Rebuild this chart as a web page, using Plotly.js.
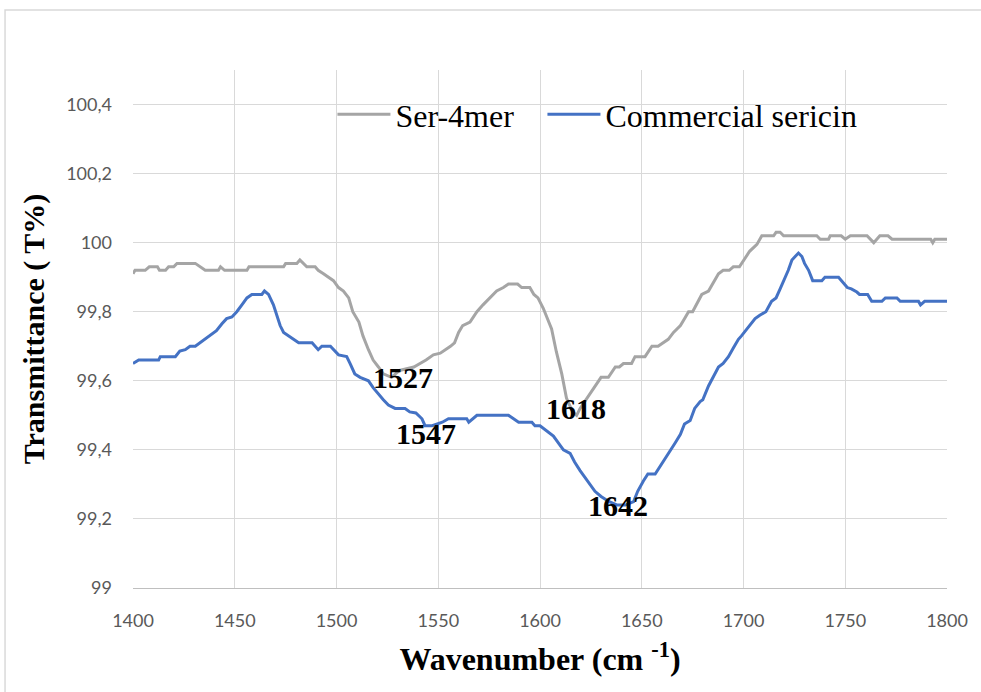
<!DOCTYPE html>
<html><head><meta charset="utf-8">
<script src="https://cdn.plot.ly/plotly-3.0.1.min.js"></script>
<style>html,body{margin:0;padding:0;background:#fff}#chart{width:981px;height:692px}</style>
</head><body><div id="chart"></div>
<script>
const serName = "Ser-4mer";
const comName = "Commercial sericin";
const serX = [1400,1401,1406,1408,1412,1413,1416,1417.5,1420,1421.6,
 1430.6,1433,1435.5,1442,1443,1445,1456,1457,1474,1475,
 1480.5,1482,1483.5,1485.4,1489.5,1491,1493.6,1496,1498.5,1501,
 1503.4,1506,1508,1511,1513,1515.7,1518,1520.6,1523,1527,
 1531,1538,1541,1544,1547.6,1551,1556,1558,1560,1562,
 1565.6,1569,1572,1575.5,1578.7,1582,1584.5,1589,1591,1595,
 1597,1599,1601.6,1605.7,1608,1610.7,1613,1616,1618,1619.7,
 1623,1626,1630,1633.6,1637,1639,1641,1645,1646.7,1651.6,
 1655,1658,1660.7,1663,1665.6,1669,1671,1673,1675,1679.5,
 1682.8,1687.7,1690,1693,1695,1698,1703,1706.6,1709,1714.8,
 1716,1718,1719.7,1736,1737.7,1741.8,1742.6,1748,1750,1752.5,
 1760.7,1764,1767,1771,1773,1792,1793,1794,1800];
const serY = [99.91,99.92,99.92,99.93,99.93,99.92,99.92,99.93,99.93,99.94,
 99.94,99.93,99.92,99.92,99.93,99.92,99.92,99.93,99.93,99.94,
 99.94,99.95,99.94,99.93,99.93,99.92,99.91,99.90,99.89,99.87,
 99.86,99.84,99.80,99.77,99.73,99.69,99.66,99.64,99.62,99.61,
 99.63,99.64,99.65,99.66,99.675,99.68,99.70,99.71,99.74,99.76,
 99.77,99.80,99.82,99.84,99.86,99.87,99.88,99.88,99.87,99.87,
 99.85,99.84,99.81,99.75,99.685,99.62,99.55,99.51,99.50,99.52,
 99.55,99.575,99.61,99.61,99.64,99.64,99.65,99.65,99.67,99.67,
 99.70,99.70,99.71,99.72,99.74,99.76,99.78,99.80,99.80,99.85,
 99.86,99.91,99.92,99.92,99.93,99.93,99.975,99.995,100.02,100.02,
 100.03,100.03,100.02,100.02,100.01,100.01,100.02,100.02,100.01,100.02,
 100.02,100.00,100.02,100.02,100.01,100.01,100.00,100.01,100.01];
const comX = [1400,1402.8,1412.6,1413.4,1420.8,1423,1425.7,1428,1430.6,1433,
 1435.5,1438,1441,1443.7,1446,1448.6,1451,1453.5,1456,1458.4,
 1463.3,1464.6,1466.6,1469,1470.7,1472.3,1474,1476.4,1479,1481.4,
 1488,1491,1492.8,1497,1501,1505,1506.7,1509,1511.6,1515.7,
 1518,1520.6,1523,1525.5,1528.8,1533.7,1536,1539,1542,1543.5,
 1547,1552,1555,1564,1565,1569,1584.5,1587,1589.5,1596,
 1597.5,1600,1603,1606.6,1609,1611.5,1614.8,1617,1619.7,1622,
 1624.6,1627,1630,1634,1638,1642,1646,1648,1650.8,1653,
 1656.6,1660,1663,1666.4,1669,1671,1673.8,1676,1678.7,1680,
 1682.8,1685,1687.7,1690,1692.6,1695,1697.5,1699,1701.6,1704,
 1705.7,1708,1711,1713.8,1716,1718,1720.5,1722,1723.8,1725.4,
 1727,1728.7,1730,1732,1734,1738.5,1740,1746.7,1748,1751,
 1753,1755.7,1757,1761,1763,1768,1769.7,1775.4,1777,1786,
 1787,1789,1800];
const comY = [99.65,99.66,99.66,99.67,99.67,99.686,99.69,99.70,99.70,99.71,
 99.72,99.73,99.745,99.765,99.78,99.785,99.80,99.82,99.84,99.85,
 99.85,99.86,99.85,99.82,99.79,99.76,99.74,99.73,99.72,99.71,
 99.71,99.69,99.70,99.70,99.675,99.67,99.65,99.62,99.61,99.60,
 99.58,99.56,99.545,99.53,99.52,99.52,99.51,99.507,99.49,99.47,
 99.47,99.48,99.49,99.49,99.48,99.50,99.50,99.49,99.48,99.48,
 99.47,99.47,99.456,99.44,99.42,99.40,99.39,99.365,99.34,99.32,
 99.30,99.28,99.265,99.25,99.24,99.24,99.25,99.28,99.31,99.33,
 99.33,99.36,99.39,99.42,99.445,99.475,99.485,99.52,99.54,99.545,
 99.585,99.61,99.64,99.65,99.67,99.695,99.72,99.73,99.75,99.765,
 99.78,99.79,99.80,99.83,99.84,99.866,99.90,99.92,99.95,99.96,
 99.97,99.96,99.94,99.92,99.89,99.89,99.90,99.90,99.89,99.87,
 99.866,99.857,99.85,99.85,99.83,99.83,99.84,99.84,99.83,99.83,
 99.82,99.83,99.83];
const xTickVals = [1400,1450,1500,1550,1600,1650,1700,1750,1800];
const xTickText = ["1400","1450","1500","1550","1600","1650","1700","1750","1800"];
const yTickVals = [99,99.2,99.4,99.6,99.8,100,100.2,100.4];
const yTickText = ["99","99,2","99,4","99,6","99,8","100","100,2","100,4"];
const peakLabels = ["1527","1547","1618","1642"];
const peakX = [1532.7,1544,1617.7,1638.3];
const peakY = [99.61,99.448,99.52,99.24];

const traces = [
 {x: serX, y: serY, name: serName, type: 'scatter', mode: 'lines', legend: 'legend',
  line: {color: '#A5A5A5', width: 3}},
 {x: comX, y: comY, name: comName, type: 'scatter', mode: 'lines', legend: 'legend2',
  line: {color: '#4472C4', width: 3}}
];
const serif = '"Liberation Serif","Times New Roman",serif';
const legendStyle = (xpos) => ({orientation: 'h', x: xpos, y: 0.914, xanchor: 'left', yanchor: 'middle',
  bgcolor: 'rgba(0,0,0,0)', font: {family: serif, size: 32, color: '#000'}, itemwidth: 53});
const layout = {
 width: 981, height: 692,
 margin: {l: 133, r: 34, t: 70, b: 104},
 paper_bgcolor: '#fff', plot_bgcolor: '#fff',
 showlegend: true,
 legend: legendStyle(0.245),
 legend2: legendStyle(0.503),
 xaxis: {range: [1400, 1800], tickvals: xTickVals, ticktext: xTickText,
  showgrid: true, gridcolor: '#D9D9D9', gridwidth: 1, zeroline: false,
  showline: true, linecolor: '#BFBFBF', linewidth: 1, ticks: '',
  ticklabelstandoff: 16,
  tickfont: {family: 'Lato, sans-serif', size: 18, color: '#595959'},
  title: {text: 'Wavenumber (cm <sup>-1</sup>)', standoff: 18,
   font: {family: serif, size: 32, color: '#000', weight: 'bold'}}},
 yaxis: {range: [99, 100.5], tickvals: yTickVals, ticktext: yTickText,
  showgrid: true, gridcolor: '#D9D9D9', gridwidth: 1, zeroline: false,
  showline: false, ticks: '', ticklabelstandoff: 20,
  tickfont: {family: 'Lato, sans-serif', size: 18, color: '#595959'},
  title: {text: 'Transmittance ( T%)', standoff: 12,
   font: {family: serif, size: 30, color: '#000', weight: 'bold'}}},
 annotations: peakLabels.map((t, i) => ({x: peakX[i], y: peakY[i], xref: 'x', yref: 'y',
  text: '<b>' + t + '</b>', showarrow: false,
  font: {family: serif, size: 30, color: '#000'}})),
 shapes: [{type: 'rect', xref: 'paper', yref: 'paper', x0: -0.1572, x1: 1.3, y0: -0.5, y1: 1.1158,
  line: {color: '#D9D9D9', width: 1.5}, fillcolor: 'rgba(0,0,0,0)', layer: 'below'}]
};
Plotly.newPlot('chart', traces, layout, {displayModeBar: false, staticPlot: true});
</script>
</body></html>
